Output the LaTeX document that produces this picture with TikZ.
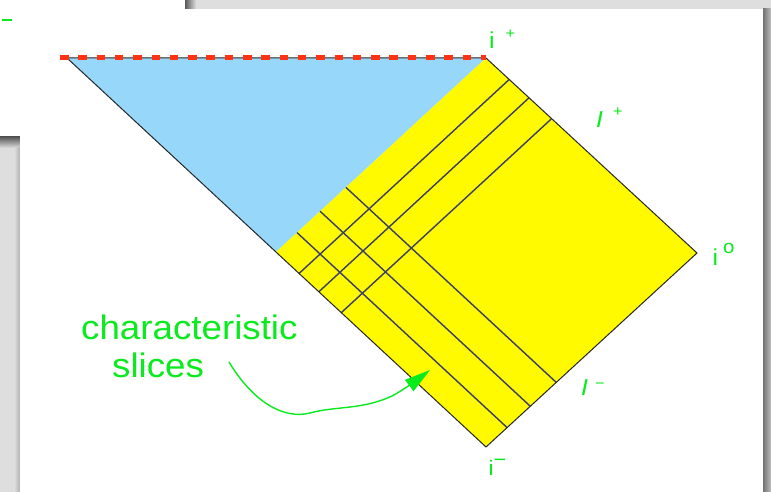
\documentclass[tikz,border=0pt]{standalone}
\usepackage{fontspec}
\setmainfont{Liberation Sans}
\newfontfamily\lbl[FakeStretch=1.08]{Liberation Sans}
\usetikzlibrary{calc,arrows.meta}
\definecolor{labgreen}{RGB}{10,235,30}
\definecolor{skyfill}{RGB}{150,215,250}
\definecolor{yel}{RGB}{255,250,0}
\definecolor{slicecol}{RGB}{60,60,110}
\definecolor{reddash}{RGB}{255,50,20}
\definecolor{bggray}{RGB}{222,222,222}
\begin{document}
\begin{tikzpicture}[x=1pt,y=-1pt,
  edge/.style={draw=black!85, line width=1pt, line join=miter},
  slice/.style={draw=slicecol, line width=1.4pt},
  lab/.style={text=labgreen, font=\lbl\fontsize{23}{23}\selectfont, inner sep=0pt, anchor=base west},
  note/.style={text=labgreen, font=\lbl\fontsize{34}{34}\selectfont, inner sep=0pt, anchor=base west},
  pointer/.style={draw=labgreen, line width=1.4pt, -{Triangle[length=26pt,width=14pt]}},
]
\useasboundingbox (0,0) rectangle (771,492);
% slide background
\fill[bggray] (0,0) rectangle (771,492);
\fill[white] (0,0) rectangle (185,137);
\shade[top color=black!65, bottom color=bggray] (0,137) rectangle (20,148);
\shade[left color=black!65, right color=bggray] (185,0) rectangle (196,9);
\shade[left color=black!55, right color=black!25] (763,9) rectangle (771,492);
\shade[left color=bggray, right color=black!30] (14,148) rectangle (20,492);
\draw[labgreen, line width=1.5pt] (2,20) -- (12,20);
\fill[white] (20,9) rectangle (763,492);
% diagram points
\coordinate (rl) at (60,58);
\coordinate (tl) at (67,58);
\coordinate (ip) at (486,58);
\coordinate (io) at (697,253);
\coordinate (im) at (486,447);
\coordinate (L) at (276,252);
\fill[skyfill] (tl) -- (ip) -- (L) -- cycle;
\fill[yel] (ip) -- (io) -- (im) -- (L) -- cycle;
\foreach \a in {0.1,0.21,0.333}
  \draw[slice] ($(L)!\a!(ip)$) -- ($(im)!\a!(io)$);
\foreach \b in {0.11,0.204,0.311}
  \draw[slice] ($(L)!\b!(im)$) -- ($(ip)!\b!(io)$);
\draw[edge] (tl) -- (im) -- (io) -- (ip) -- cycle;
\draw[reddash, line width=5pt, dash pattern=on 8.5pt off 9.8pt] (rl) -- (ip);
% labels
\node[lab] (lip) at (489,49) {i\hspace{11pt}\raisebox{10.5pt}{\fontsize{15}{15}\selectfont +}};
\node[lab] (lscrip) at (596,128) {\itshape I\hspace{10pt}\upshape\raisebox{11.5pt}{\fontsize{15}{15}\selectfont +}};
\node[lab] (lio) at (712.5,265) {i\hspace{5pt}\raisebox{12pt}{\fontsize{19}{19}\selectfont o}};
\node[lab] (lscrim) at (581,395) {\itshape I\hspace{7pt}\upshape\raisebox{7pt}{\fontsize{15}{15}\selectfont −}};
\node[lab, font=\lbl\fontsize{21}{21}\selectfont] (lim) at (488.5,475) {i\raisebox{9pt}{\fontsize{20}{20}\selectfont −}};
\node[note] (n1) at (81,339) {characteristic};
\node[note] (n2) at (112,377) {slices};
% pointer
\coordinate (as) at (229,362);
\coordinate (at) at (430,370);
\draw[pointer] (as) .. controls (252,400) and (282,420) .. (310,413)
  .. controls (335,406) and (362,410) .. (392,396)
  .. controls (405,389) and (418,379) .. (at);
\end{tikzpicture}
\end{document}
